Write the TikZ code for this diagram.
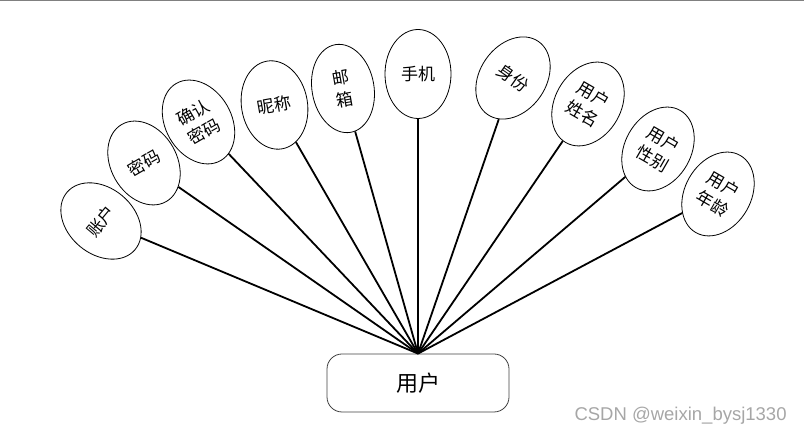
\documentclass[tikz,border=0pt]{standalone}
\usepackage{fontspec}
\setmainfont{Liberation Sans}
\newfontfamily\cjk{Noto Sans CJK SC}
\usetikzlibrary{shapes.geometric}
\tikzset{
  attr/.style={
    ellipse, draw=black, line width=0.8pt, fill=white,
    minimum width=66pt, minimum height=89pt, inner sep=0pt,
    align=center, font=\cjk\fontsize{17}{22}\selectfont
  },
  entity/.style={
    rectangle, rounded corners=15pt, draw=black!75, line width=0.8pt,
    minimum width=182pt, minimum height=58pt,
    font=\cjk\fontsize{22}{26}\selectfont
  },
  link/.style={line width=1.8pt, black},
}

\begin{document}
\begin{tikzpicture}[x=1pt, y=1pt]
  \useasboundingbox (0,0) rectangle (804,435);
  \draw[gray, line width=2pt] (0,435) -- (804,435);

  \node (user)   [entity]              at (418,52)    {用户};
  \node (zhanghu)[attr, rotate=50]     at (101,214)   {账户};
  \node (mima)   [attr, rotate=30]     at (144,272)   {密码};
  \node (qrmima) [attr, rotate=30]     at (198.5,313) {确认\\密码};
  \node (nicheng)[attr, rotate=10]     at (274.5,330) {昵称};
  \node (youxiang)[attr, rotate=10, minimum width=62pt] at (343,346.5) {邮\\箱};
  \node (shouji) [attr]                at (418,361)   {手机};
  \node (shenfen)[attr, rotate=-35]    at (513,357)   {身份};
  \node (xingming)[attr, rotate=-30]   at (588,331)   {用户\\姓名};
  \node (xingbie)[attr, rotate=-30]    at (658,286)   {用户\\性别};
  \node (nianling)[attr, rotate=-30]   at (718,241)   {用户\\年龄};

  \foreach \a in {zhanghu,mima,qrmima,nicheng,youxiang,shouji,shenfen,xingming,xingbie,nianling}
    \draw [link] (user.north) -- (\a);

  \node (mark) [anchor=west, text=gray!70, font=\fontsize{18.5}{21}\selectfont]
    at (571,19) {CSDN @weixin\_bysj1330};
\end{tikzpicture}
\end{document}
